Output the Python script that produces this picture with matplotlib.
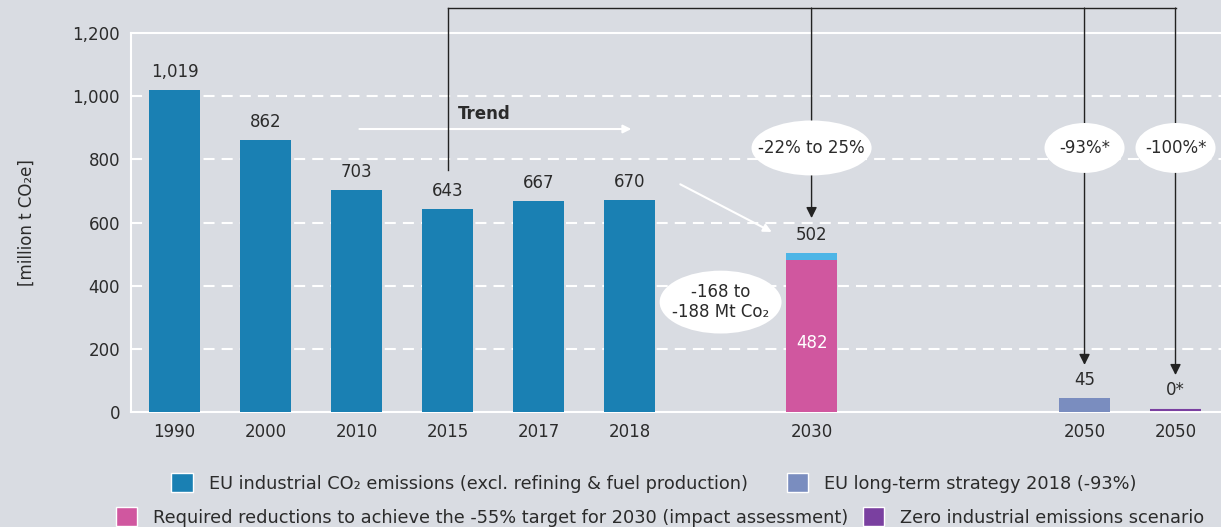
import matplotlib.pyplot as plt
from matplotlib.patches import Ellipse, Patch

# data
years = ['1990', '2000', '2010', '2015', '2017', '2018']
emissions = [1019, 862, 703, 643, 667, 670]
value_labels = ['1,019', '862', '703', '643', '667', '670']
target_2030 = 482
gap_2030 = 20          # 502 - 482
total_2030 = 502
lts_2050 = 45
zero_2050 = 0

pos_hist = [0, 1, 2, 3, 4, 5]
pos_2030 = 7
pos_lts = 10
pos_zero = 11

c_blue = '#1a80b3'
c_light = '#4db5e6'
c_pink = '#d0579f'
c_lts = '#7a8dbf'
c_zero = '#7a40a0'
bg = '#d9dce2'
txt = '#2b2b2b'

plt.rcParams['font.family'] = ['DejaVu Sans']

fig = plt.figure(figsize=(12.21, 5.27), dpi=100, facecolor=bg)
ax = fig.add_axes([131 / 1221, 115 / 527, 1 - 131 / 1221, 379 / 527])
ax.set_facecolor(bg)

w = 0.56
ax.bar(pos_hist, emissions, width=w, color=c_blue, zorder=3)
ax.bar(pos_2030, target_2030, width=w, color=c_pink, zorder=3)
ax.bar(pos_2030, gap_2030, bottom=target_2030, width=w, color=c_light, zorder=3)
ax.bar(pos_lts, lts_2050, width=w, color=c_lts, zorder=3)
ax.bar(pos_zero, zero_2050, bottom=5, width=w, color=c_zero, edgecolor=c_zero, linewidth=1.5, zorder=3)

for p, v, s in zip(pos_hist, emissions, value_labels):
    ax.annotate(s, (p, v), xytext=(0, 9), textcoords='offset pixels',
                ha='center', va='bottom', fontsize=12, color=txt)
ax.annotate(str(total_2030), (pos_2030, total_2030), xytext=(0, 9), textcoords='offset pixels',
            ha='center', va='bottom', fontsize=12, color=txt)
ax.text(pos_2030, 220, str(target_2030), ha='center', va='center', fontsize=12, color='white', zorder=4)
ax.annotate(str(lts_2050), (pos_lts, lts_2050), xytext=(0, 9), textcoords='offset pixels',
            ha='center', va='bottom', fontsize=12, color=txt)
ax.annotate('0*', (pos_zero, zero_2050), xytext=(0, 13), textcoords='offset pixels',
            ha='center', va='bottom', fontsize=12, color=txt)

# axes styling
ax.set_xlim(-0.48, 11.5)
ax.set_ylim(0, 1200)
ax.set_yticks(range(0, 1201, 200))
ax.set_yticklabels(['0', '200', '400', '600', '800', '1,000', '1,200'])
ax.set_xticks(pos_hist + [pos_2030, pos_lts, pos_zero])
ax.set_xticklabels(years + ['2030', '2050', '2050'])
ax.tick_params(length=0, labelsize=12, colors=txt, pad=8)
for y in range(200, 1001, 200):
    ax.axhline(y, color='white', lw=1.5, ls=(0, (5.3, 3.4)), zorder=1)
for s in ['left', 'bottom', 'top']:
    ax.spines[s].set_color('white')
    ax.spines[s].set_linewidth(1.5)
ax.spines['right'].set_visible(False)
ax.set_ylabel('[million t CO₂e]', fontsize=12, color=txt, labelpad=26)

# trend arrow
ax.annotate('', xy=(5.05, 896), xytext=(2.0, 896),
            arrowprops=dict(arrowstyle='-|>', color='white', lw=1.5, mutation_scale=12))
ax.text(3.4, 943, 'Trend', ha='center', va='center', fontsize=12, fontweight='bold', color=txt)
ax.annotate('', xy=(6.59, 566), xytext=(5.53, 725),
            arrowprops=dict(arrowstyle='-|>', color='white', lw=1.5, mutation_scale=12))

# bracket on top
top = 1279
k = '#222222'
ax.plot([3, 11], [top, top], color=k, lw=1, clip_on=False, zorder=5)
ax.plot([3, 3], [top, 766], color=k, lw=1, clip_on=False, zorder=5)
for x, tip in [(pos_2030, 614), (pos_lts, 149), (pos_zero, 117)]:
    ax.annotate('', xy=(x, tip), xytext=(x, top), annotation_clip=False,
                arrowprops=dict(arrowstyle='-|>', color=k, lw=1, mutation_scale=16,
                                shrinkA=0, shrinkB=0), zorder=5)

# ellipses
bubbles = [(pos_2030, 836, 1.32, 174, '-22% to 25%'),
           (pos_lts, 836, 0.88, 158, '-93%*'),
           (pos_zero, 836, 0.88, 158, '-100%*'),
           (6.0, 348, 1.34, 199, '-168 to\n-188 Mt Co₂')]
for x, y, ew, eh, s in bubbles:
    ax.add_patch(Ellipse((x, y), ew, eh, facecolor='white', edgecolor='none', zorder=6))
    ax.text(x, y, s, ha='center', va='center', fontsize=12, color=txt, zorder=7,
            linespacing=1.2)

# legends (two centred rows)
h1 = [Patch(facecolor=c_blue, edgecolor='white', label='EU industrial CO₂ emissions (excl. refining & fuel production)'),
      Patch(facecolor=c_lts, edgecolor='white', label='EU long-term strategy 2018 (-93%)')]
h2 = [Patch(facecolor=c_pink, edgecolor='white', label='Required reductions to achieve the -55% target for 2030 (impact assessment)'),
      Patch(facecolor=c_zero, edgecolor='white', label='Zero industrial emissions scenario')]
leg_kw = dict(ncol=2, loc='center', frameon=False, fontsize=12.8, handlelength=1.2,
              handleheight=1.2, handletextpad=0.9, labelcolor=txt, borderpad=0)
fig.legend(handles=h1, bbox_to_anchor=(654 / 1221, 1 - 483 / 527), columnspacing=2.2, **leg_kw)
fig.legend(handles=h2, bbox_to_anchor=(660 / 1221, 1 - 517 / 527), columnspacing=0.8, **leg_kw)

fig.savefig('out.png', dpi=100, facecolor=bg)
